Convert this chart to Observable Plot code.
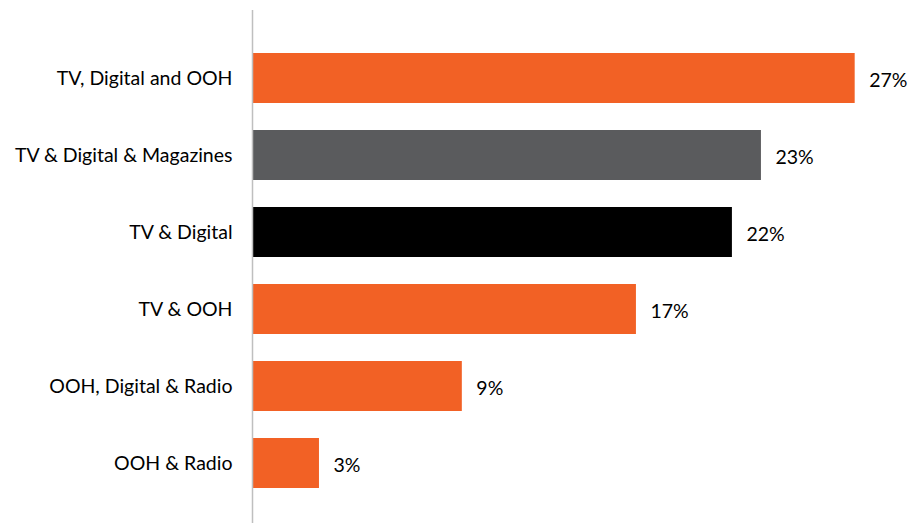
<!DOCTYPE html>
<html>
<head>
<meta charset="utf-8">
<script src="https://cdn.jsdelivr.net/npm/d3@7"></script>
<script src="https://cdn.jsdelivr.net/npm/@observablehq/plot@0.6"></script>
<style>
  html, body { margin: 0; padding: 0; background: #fff; }
  #chart svg { display: block; }
</style>
</head>
<body>
<div id="chart"></div>
<script>
const categories = ["TV, Digital and OOH", "TV & Digital & Magazines", "TV & Digital", "TV & OOH", "OOH, Digital & Radio", "OOH & Radio"];
const values = [27.0, 22.8, 21.5, 17.2, 9.4, 3.0];
const valueLabels = ["27%", "23%", "22%", "17%", "9%", "3%"];
const barColors = ["#F26125", "#5A5B5D", "#000000", "#F26125", "#F26125", "#F26125"];

const data = categories.map((c, i) => ({category: c, value: values[i], label: valueLabels[i], color: barColors[i]}));

const chart = Plot.plot({
  width: 913,
  height: 523,
  marginTop: 10,
  marginBottom: 0,
  marginLeft: 252,
  marginRight: 36,
  style: {fontFamily: "Lato, 'Open Sans', sans-serif", fontSize: "19.5px", color: "#000", background: "#fff"},
  x: {domain: [0, 28], axis: null},
  y: {domain: categories, paddingInner: 0.356, paddingOuter: 0.483, align: 0.547, label: null},
  marks: [
    Plot.barX(data, {x: "value", y: "category", fill: "color"}),
    Plot.text(data, {x: "value", y: "category", text: "label", textAnchor: "start", dx: 14, dy: 2, fill: "#000", fontSize: 19.5}),
    Plot.axisY({tickSize: 0, tickPadding: 20, fontSize: 19.5, fill: "#000", label: null}),
    Plot.ruleX([0], {stroke: "#BFBFBF", strokeWidth: 1.5})
  ]
});
document.getElementById("chart").appendChild(chart);
</script>
</body>
</html>
